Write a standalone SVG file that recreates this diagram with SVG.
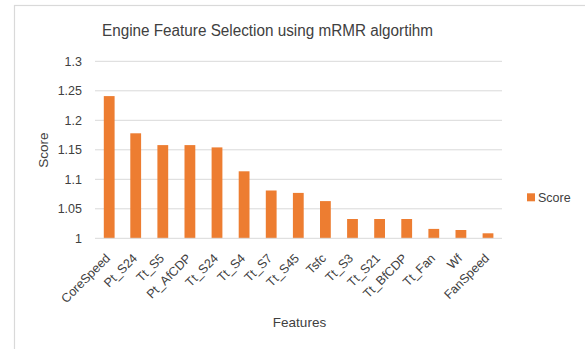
<svg xmlns="http://www.w3.org/2000/svg" width="585" height="349" viewBox="0 0 585 349">
<style>
text{font-family:"Liberation Sans",Arial,sans-serif;fill:#404040}
.tick{font-size:12.5px;text-anchor:end}
.xl{font-size:12.5px;text-anchor:end}
.grid{stroke:#d9d9d9;stroke-width:1}
.bar{fill:#ed7d31}
</style>
<rect x="0" y="0" width="585" height="349" fill="#ffffff"/>
<rect x="14.5" y="5.5" width="600" height="400" fill="#ffffff" stroke="#d9d9d9" stroke-width="1.2"/>
<text x="267.5" y="36" font-size="16" text-anchor="middle" textLength="331" lengthAdjust="spacingAndGlyphs">Engine Feature Selection using mRMR algortihm</text>
<g id="gridlines">
<line class="grid" x1="95" y1="61.3" x2="502" y2="61.3"/>
<line class="grid" x1="95" y1="90.8" x2="502" y2="90.8"/>
<line class="grid" x1="95" y1="120.3" x2="502" y2="120.3"/>
<line class="grid" x1="95" y1="149.8" x2="502" y2="149.8"/>
<line class="grid" x1="95" y1="179.3" x2="502" y2="179.3"/>
<line class="grid" x1="95" y1="208.8" x2="502" y2="208.8"/>
</g>
<g id="yticks">
<text class="tick" x="82" y="65.7">1.3</text>
<text class="tick" x="82" y="95.2">1.25</text>
<text class="tick" x="82" y="124.7">1.2</text>
<text class="tick" x="82" y="154.2">1.15</text>
<text class="tick" x="82" y="183.7">1.1</text>
<text class="tick" x="82" y="213.2">1.05</text>
<text class="tick" x="82" y="242.7">1</text>
</g>
<text x="47.5" y="150" font-size="13.5" text-anchor="middle" transform="rotate(-90 47.5 150)">Score</text>
<g id="bars">
<rect class="bar" x="103.8" y="96.1" width="10.8" height="142.2"/>
<rect class="bar" x="130.3" y="133.3" width="10.8" height="105"/>
<rect class="bar" x="157.4" y="145.1" width="10.8" height="93.2"/>
<rect class="bar" x="184.5" y="145.1" width="10.8" height="93.2"/>
<rect class="bar" x="211.6" y="147.4" width="10.8" height="90.9"/>
<rect class="bar" x="238.7" y="171.3" width="10.8" height="67"/>
<rect class="bar" x="265.8" y="190.5" width="10.8" height="47.8"/>
<rect class="bar" x="292.9" y="192.9" width="10.8" height="45.4"/>
<rect class="bar" x="320" y="201.1" width="10.8" height="37.2"/>
<rect class="bar" x="347.1" y="219" width="10.8" height="19.3"/>
<rect class="bar" x="374.2" y="219" width="10.8" height="19.3"/>
<rect class="bar" x="401.3" y="219" width="10.8" height="19.3"/>
<rect class="bar" x="428.4" y="228.9" width="10.8" height="9.4"/>
<rect class="bar" x="455.5" y="230" width="10.8" height="8.3"/>
<rect class="bar" x="482.6" y="233.3" width="10.8" height="5"/>
</g>
<line class="grid" x1="95" y1="238.3" x2="502" y2="238.3"/>
<g id="xlabels">
<text class="xl" transform="translate(111,259) rotate(-45)">CoreSpeed</text>
<text class="xl" transform="translate(138,259) rotate(-45)">Pt_S24</text>
<text class="xl" transform="translate(165,259) rotate(-45)">Tt_S5</text>
<text class="xl" transform="translate(192,259) rotate(-45)">Pt_AfCDP</text>
<text class="xl" transform="translate(219,259) rotate(-45)">Tt_S24</text>
<text class="xl" transform="translate(246,259) rotate(-45)">Tt_S4</text>
<text class="xl" transform="translate(273,259) rotate(-45)">Tt_S7</text>
<text class="xl" transform="translate(300,259) rotate(-45)">Tt_S45</text>
<text class="xl" transform="translate(327,259) rotate(-45)">Tsfc</text>
<text class="xl" transform="translate(354,259) rotate(-45)">Tt_S3</text>
<text class="xl" transform="translate(381,259) rotate(-45)">Tt_S21</text>
<text class="xl" transform="translate(408,259) rotate(-45)">Tt_BfCDP</text>
<text class="xl" transform="translate(436,259) rotate(-45)">Tt_Fan</text>
<text class="xl" transform="translate(463,259) rotate(-45)">Wf</text>
<text class="xl" transform="translate(490,259) rotate(-45)">FanSpeed</text>
</g>
<text x="299.5" y="327" font-size="13.5" text-anchor="middle">Features</text>
<g id="legend">
<rect class="bar" x="527" y="193.3" width="8" height="8"/>
<text x="538" y="201.5" font-size="12.5">Score</text>
</g>
</svg>
